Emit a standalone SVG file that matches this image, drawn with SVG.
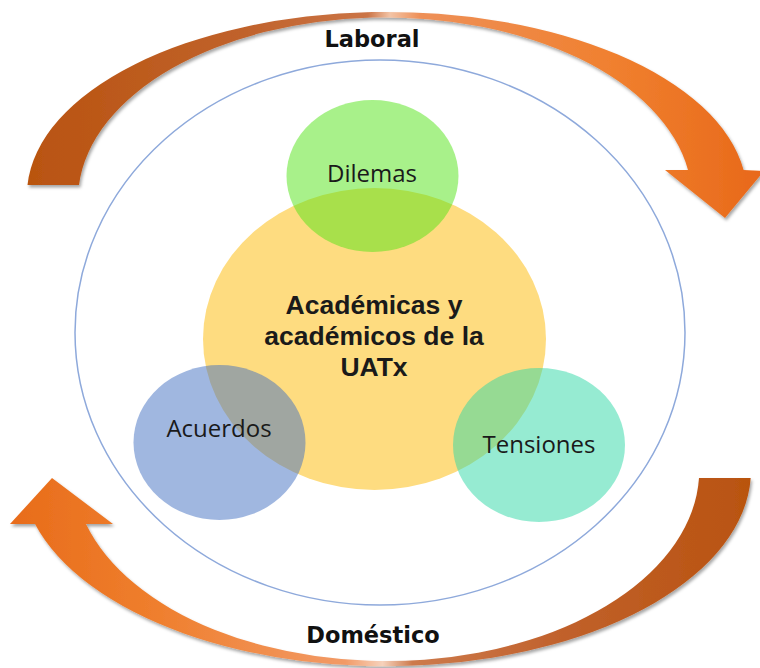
<svg xmlns="http://www.w3.org/2000/svg" width="760" height="668" viewBox="0 0 760 668">
  <defs>
    <linearGradient id="gTop" gradientUnits="userSpaceOnUse" x1="20" y1="0" x2="760" y2="0">
      <stop offset="0" stop-color="#B9530F"/>
      <stop offset="0.3" stop-color="#C0622B"/>
      <stop offset="0.47" stop-color="#CB7446"/>
      <stop offset="0.5" stop-color="#F3C4A6"/>
      <stop offset="0.54" stop-color="#EE9058"/>
      <stop offset="0.8" stop-color="#F0802F"/>
      <stop offset="1" stop-color="#E8691A"/>
    </linearGradient>
    <linearGradient id="gBot" gradientUnits="userSpaceOnUse" x1="10" y1="0" x2="755" y2="0">
      <stop offset="0" stop-color="#E86C1A"/>
      <stop offset="0.2" stop-color="#EF7F2E"/>
      <stop offset="0.45" stop-color="#F29A66"/>
      <stop offset="0.5" stop-color="#F6D2BC"/>
      <stop offset="0.54" stop-color="#CD7A4C"/>
      <stop offset="0.75" stop-color="#C0602A"/>
      <stop offset="1" stop-color="#B9530F"/>
    </linearGradient>
    <filter id="shadow" x="-5%" y="-5%" width="110%" height="115%">
      <feDropShadow dx="1.5" dy="2.5" stdDeviation="1.5" flood-color="#000" flood-opacity="0.35"/>
    </filter>
  </defs>
  <style>
    .ring { fill: none; stroke: #8EA9DB; stroke-width: 1.5; }
    .node { stroke: none; }
    .lbl { font-family: "Open Sans", "Liberation Sans", sans-serif; font-size: 24px; fill: #1a1a1a; text-anchor: middle; }
    .core { font-family: "Liberation Sans", Arial, sans-serif; font-size: 26.5px; font-weight: bold; fill: #1a1a1a; text-anchor: middle; }
    .ctx { font-family: "DejaVu Sans", "Liberation Sans", sans-serif; font-size: 22.5px; font-weight: bold; fill: #111; text-anchor: middle; }
  </style>
  <rect width="760" height="668" fill="#ffffff"/>

  <g id="connectors">
    <path id="arrow-laboral" filter="url(#shadow)" fill="url(#gTop)"
      d="M 27.5 185 A 360 183 0 0 1 743.6 170 L 764 171 L 725 218 L 665 170 L 688 170 A 307 182 0 0 0 79 185 Z"/>
    <path id="arrow-domestico" filter="url(#shadow)" fill="url(#gBot)"
      d="M 750.7 478 A 365 196 0 0 1 35 524 L 10 524 L 52 478 L 113 524 L 86 524 A 313 191 0 0 0 699 478 Z"/>
  </g>

  <g id="context-ring">
    <ellipse class="ring" cx="380" cy="332.5" rx="305" ry="272.5"/>
  </g>

  <g id="node-laboral">
    <text class="ctx" x="372" y="47">Laboral</text>
  </g>
  <g id="node-domestico">
    <text class="ctx" x="373" y="643">Doméstico</text>
  </g>

  <g id="node-center">
    <ellipse class="node" cx="374.5" cy="339" rx="171.5" ry="151" fill="#FEDC80"/>
  </g>
  <g id="node-dilemas">
    <ellipse class="node" cx="372.5" cy="176" rx="86" ry="76" fill="rgb(81,227,21)" fill-opacity="0.5"/>
    <text class="lbl" x="372" y="182">Dilemas</text>
  </g>
  <g id="node-acuerdos">
    <ellipse class="node" cx="219.5" cy="442.5" rx="86" ry="77.5" fill="rgb(65,111,193)" fill-opacity="0.5"/>
    <text class="lbl" x="219" y="437">Acuerdos</text>
  </g>
  <g id="node-tensiones">
    <ellipse class="node" cx="539" cy="445" rx="86" ry="77" fill="rgb(45,215,165)" fill-opacity="0.5"/>
    <text class="lbl" x="539" y="453">Tensiones</text>
  </g>
  <g id="node-center-label">
    <text class="core" x="374" y="314">Académicas y</text>
    <text class="core" x="374" y="345">académicos de la</text>
    <text class="core" x="374" y="376">UATx</text>
  </g>
</svg>
